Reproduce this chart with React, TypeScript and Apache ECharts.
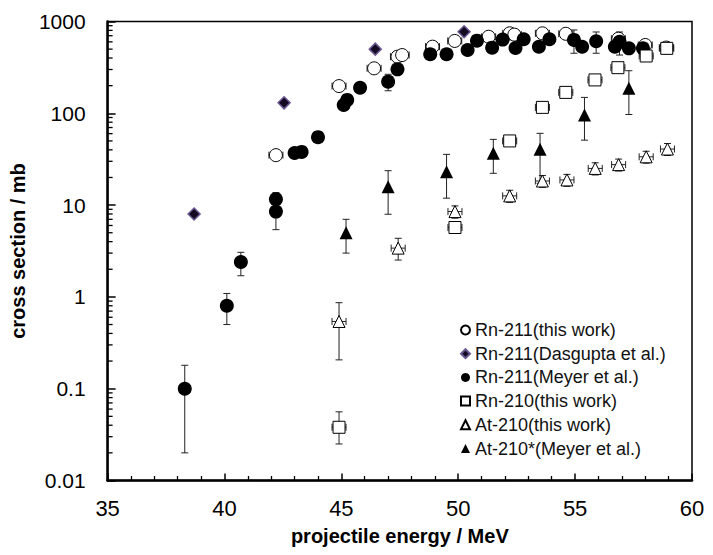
import React, { useEffect, useRef } from "react";
import * as echarts from "echarts";

// Axis ticks
const yTickValues = [0.01, 0.1, 1, 10, 100, 1000];
const yTickLabels = ["0.01", "0.1", "1", "10", "100", "1000"];
const yMinorMultipliers = [2, 3, 4, 5, 6, 7, 8, 9];

// Energy uncertainty (MeV) of "this work" points
const energyUncertainty = 0.3;

// [energy MeV, cross section mb]
const rn211ThisWork = [
  [42.2, 35], [44.9, 198], [46.4, 309], [47.4, 414], [47.6, 431], [48.9, 532],
  [49.85, 614], [51.3, 682], [52.2, 743], [52.4, 720], [53.6, 743], [54.6, 735],
  [56.85, 650], [58.0, 555], [58.9, 520],
];

const rn211Dasgupta = [
  [38.7, 8], [42.55, 130], [46.45, 500], [50.25, 774],
];

// [energy MeV, cross section mb, lower, upper]
const rn211Meyer = [
  [38.3, 0.1, 0.02, 0.18], [40.1, 0.8, 0.5, 1.09], [40.7, 2.4, 1.7, 3.06],
  [42.2, 8.5, 5.4, 11.6], [42.2, 11.6, 9.5, 13.7], [43.0, 37, 33, 41],
  [43.3, 38, 34, 42], [44.0, 55, 50, 60], [45.1, 123, 110, 136],
  [45.25, 140, 126, 154], [45.8, 190, 171, 209], [47.0, 221, 176, 266],
  [47.4, 301, 271, 331], [48.8, 440, 396, 484], [49.5, 440, 396, 484],
  [50.4, 490, 441, 539], [50.8, 618, 556, 680], [51.45, 519, 467, 571],
  [51.9, 635, 572, 698], [52.45, 515, 464, 566], [52.8, 640, 576, 704],
  [53.45, 530, 477, 583], [53.9, 640, 576, 704], [54.95, 630, 451, 809],
  [55.3, 530, 477, 583], [55.9, 610, 451, 769], [56.7, 530, 477, 583],
  [56.9, 600, 431, 769], [57.3, 510, 459, 561], [57.9, 510, 459, 561],
];

const rn210ThisWork = [
  [44.9, 0.038, 0.025, 0.056], [49.86, 5.7, 5.2, 6.2], [52.2, 50, 46, 54],
  [53.6, 116, 107, 125], [54.6, 169, 156, 182], [55.85, 231, 213, 249],
  [56.83, 314, 290, 338], [58.04, 421, 390, 452], [58.92, 510, 470, 550],
];

const at210ThisWork = [
  [44.9, 0.54, 0.206, 0.865], [47.43, 3.4, 2.52, 4.35], [49.86, 8.5, 7.2, 9.8],
  [52.2, 12.6, 10.7, 14.5], [53.6, 18.3, 15.6, 21.0], [54.65, 18.8, 16.0, 21.6],
  [55.86, 25.1, 21.3, 28.9], [56.86, 27.6, 23.5, 31.7], [58.04, 33.6, 28.6, 38.6],
  [58.95, 40.8, 34.7, 46.9],
];

const at210Meyer = [
  [45.2, 5.0, 3.0, 7.0], [47.0, 15.8, 7.95, 23.7], [49.5, 23.1, 11.9, 35.7],
  [51.5, 36.6, 22.2, 52], [53.5, 40.5, 17.3, 60.5], [55.4, 96, 51, 149],
  [57.3, 187, 97, 291],
];

const seriesNames = [
  "Rn-211(this work)",
  "Rn-211(Dasgupta et al.)",
  "Rn-211(Meyer et al.)",
  "Rn-210(this work)",
  "At-210(this work)",
  "At-210*(Meyer et al.)",
];

const FONT = "'Liberation Sans', Arial, sans-serif";

export default function App() {
  const ref = useRef<HTMLDivElement>(null);

  useEffect(() => {
    if (!ref.current) return;
    const chart = echarts.init(ref.current, null, { renderer: "svg" });

    // error bar items: [x, y, lo, hi, dx]
    const errItems: number[][] = [];
    rn211ThisWork.forEach((d) => errItems.push([d[0], d[1], d[1], d[1], energyUncertainty]));
    rn211Meyer.forEach((d) => errItems.push([d[0], d[1], d[2], d[3], 0]));
    rn210ThisWork.forEach((d) => errItems.push([d[0], d[1], d[2], d[3], energyUncertainty]));
    at210ThisWork.forEach((d) => errItems.push([d[0], d[1], d[2], d[3], energyUncertainty]));
    at210Meyer.forEach((d) => errItems.push([d[0], d[1], d[2], d[3], 0]));

    const minorTickValues: number[][] = [];
    for (let k = 0; k < yTickValues.length - 1; k++) {
      yMinorMultipliers.forEach((m) => minorTickValues.push([35, +(m * yTickValues[k]).toPrecision(3)]));
    }

    const errStyle = { stroke: "#222", lineWidth: 1, fill: "none" };
    const renderErr = (params: any, api: any) => {
      const x = api.value(0);
      const y = api.value(1);
      const lo = api.value(2);
      const hi = api.value(3);
      const dx = api.value(4);
      const children: any[] = [];
      const cap = 3.5;
      if (hi > lo) {
        const pLo = api.coord([x, lo]);
        const pHi = api.coord([x, hi]);
        children.push({ type: "line", shape: { x1: pLo[0], y1: pLo[1], x2: pHi[0], y2: pHi[1] }, style: errStyle });
        children.push({ type: "line", shape: { x1: pLo[0] - cap, y1: pLo[1], x2: pLo[0] + cap, y2: pLo[1] }, style: errStyle });
        children.push({ type: "line", shape: { x1: pHi[0] - cap, y1: pHi[1], x2: pHi[0] + cap, y2: pHi[1] }, style: errStyle });
      }
      if (dx > 0) {
        const pL = api.coord([x - dx, y]);
        const pR = api.coord([x + dx, y]);
        children.push({ type: "line", shape: { x1: pL[0], y1: pL[1], x2: pR[0], y2: pR[1] }, style: errStyle });
        children.push({ type: "line", shape: { x1: pL[0], y1: pL[1] - cap, x2: pL[0], y2: pL[1] + cap }, style: errStyle });
        children.push({ type: "line", shape: { x1: pR[0], y1: pR[1] - cap, x2: pR[0], y2: pR[1] + cap }, style: errStyle });
      }
      return { type: "group", children };
    };

    const renderMinorTick = (params: any, api: any) => {
      const p = api.coord([api.value(0), api.value(1)]);
      return {
        type: "line",
        shape: { x1: p[0], y1: p[1], x2: p[0] + 5, y2: p[1] },
        style: { stroke: "#000", lineWidth: 1.3 },
      };
    };

    const pick = (arr: number[][]) => arr.map((d) => [d[0], d[1]]);

    chart.setOption({
      animation: false,
      backgroundColor: "#fff",
      textStyle: { fontFamily: FONT },
      grid: {
        left: 106,
        right: 21,
        top: 21.5,
        bottom: 74.5,
        show: true,
        borderColor: "#000",
        borderWidth: 1.5,
      },
      legend: {
        orient: "vertical",
        left: 455,
        top: 316,
        itemWidth: 9,
        itemHeight: 9,
        itemGap: 5.7,
        data: seriesNames,
        textStyle: { fontSize: 18, color: "#111", fontFamily: FONT, lineHeight: 18 },
      },
      xAxis: {
        type: "value",
        min: 35,
        max: 60,
        interval: 5,
        name: "projectile energy / MeV",
        nameLocation: "middle",
        nameGap: 45,
        nameTextStyle: { fontSize: 20, fontWeight: "bold", color: "#000", fontFamily: FONT },
        axisLine: { lineStyle: { color: "#000", width: 2.5 } },
        axisTick: { inside: true, length: 7, lineStyle: { color: "#000", width: 1.5 } },
        minorTick: { show: true, splitNumber: 5, length: 4.5, lineStyle: { color: "#000", width: 1.3 } },
        axisLabel: { fontSize: 22, color: "#000", margin: 17, fontFamily: FONT },
        splitLine: { show: false },
      },
      yAxis: {
        type: "log",
        logBase: 10,
        min: 0.01,
        max: 1000,
        splitNumber: 5,
        name: "cross section / mb",
        nameLocation: "middle",
        nameGap: 72,
        nameRotate: 90,
        nameTextStyle: { fontSize: 20, fontWeight: "bold", color: "#000", fontFamily: FONT },
        axisLine: { lineStyle: { color: "#000", width: 2.5 } },
        axisTick: { inside: true, length: 8, lineStyle: { color: "#000", width: 1.5 } },
        axisLabel: {
          fontSize: 21,
          color: "#000",
          margin: 22,
          fontFamily: FONT,
          formatter: (v: number) => {
            let best = 0;
            yTickValues.forEach((t, i) => {
              if (Math.abs(Math.log10(t) - Math.log10(v)) < Math.abs(Math.log10(yTickValues[best]) - Math.log10(v))) best = i;
            });
            return yTickLabels[best];
          },
        },
        splitLine: { show: false },
      },
      series: [
        {
          type: "custom",
          name: "minorTicks",
          renderItem: renderMinorTick,
          data: minorTickValues,
          silent: true,
          z: 5,
          clip: false,
        },
        {
          type: "custom",
          name: "errors",
          renderItem: renderErr,
          data: errItems,
          silent: true,
          z: 1,
          encode: { x: 0, y: 1 },
        },
        {
          type: "scatter",
          name: seriesNames[0],
          data: rn211ThisWork,
          symbol: "circle",
          symbolSize: 13,
          itemStyle: { color: "#fff", borderColor: "#000", borderWidth: 1, opacity: 1 },
          z: 2,
        },
        {
          type: "scatter",
          name: seriesNames[1],
          data: rn211Dasgupta,
          symbol: "diamond",
          symbolSize: 12,
          itemStyle: { color: "#140a22", borderColor: "#6a5890", borderWidth: 1.5, opacity: 1 },
          z: 3,
        },
        {
          type: "scatter",
          name: seriesNames[2],
          data: pick(rn211Meyer),
          symbol: "circle",
          symbolSize: 14,
          itemStyle: { color: "#000", opacity: 1 },
          z: 4,
        },
        {
          type: "scatter",
          name: seriesNames[3],
          data: pick(rn210ThisWork),
          symbol: "rect",
          symbolSize: 12,
          itemStyle: { color: "#fff", borderColor: "#000", borderWidth: 1, opacity: 1 },
          z: 5,
        },
        {
          type: "scatter",
          name: seriesNames[4],
          data: pick(at210ThisWork),
          symbol: "triangle",
          symbolSize: 12,
          itemStyle: { color: "#fff", borderColor: "#000", borderWidth: 1, opacity: 1 },
          z: 5,
        },
        {
          type: "scatter",
          name: seriesNames[5],
          data: pick(at210Meyer),
          symbol: "triangle",
          symbolSize: 13,
          itemStyle: { color: "#000", opacity: 1 },
          z: 5,
        },
      ],
    });

    return () => chart.dispose();
  }, []);

  return <div ref={ref} style={{ width: 713, height: 555, position: "absolute", left: 0, top: 0 }} />;
}
